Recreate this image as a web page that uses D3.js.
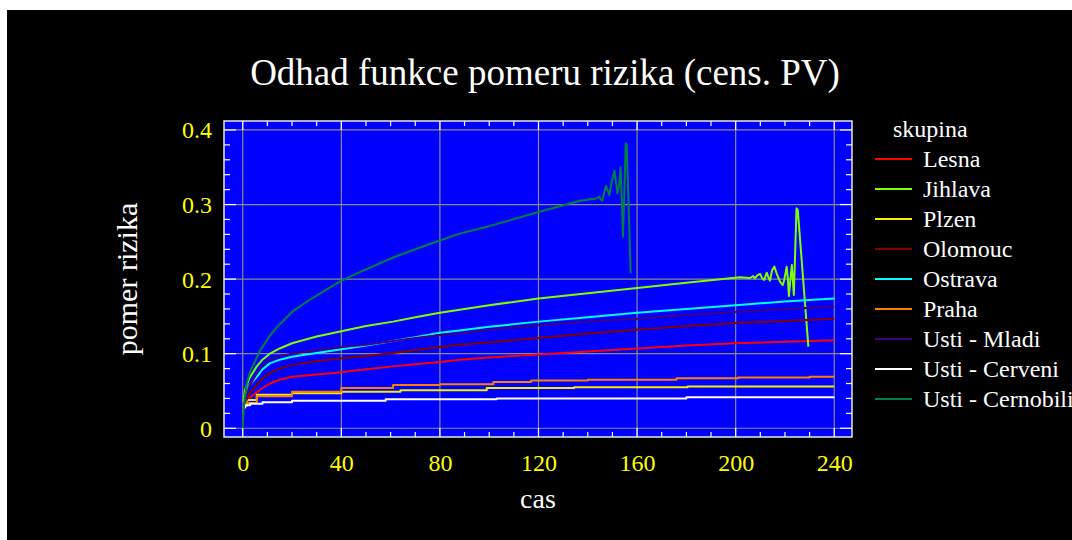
<!DOCTYPE html>
<html>
<head>
<meta charset="utf-8">
<script src="https://cdn.jsdelivr.net/npm/d3@7"></script>
<style>
  html, body { margin: 0; padding: 0; background: #fff; }
  svg { display: block; }
  text { font-family: "Liberation Serif", "Times New Roman", serif; }
</style>
</head>
<body>
<svg id="chart" width="1072" height="540"></svg>
<script>
// ---------------- data ----------------
const seriesNames = ["Lesna", "Jihlava", "Plzen", "Olomouc", "Ostrava", "Praha",
  "Usti - Mladi", "Usti - Cerveni", "Usti - Cernobili"];
const seriesColors = ["#ff0000", "#80ff00", "#f0f000", "#800000", "#00ffff", "#ff8000",
  "#400080", "#ffffff", "#008040"];

const xTicks = [0, 40, 80, 120, 160, 200, 240];
const yTicks = [0, 0.1, 0.2, 0.3, 0.4];
const yTickLabels = ["0", "0.1", "0.2", "0.3", "0.4"];

// [cas, pomer rizika]
const lesna = [[0.3,0.030],[1.6,0.034],[2.5,0.040],[5.7,0.048],[8,0.054],[11,0.060],[15,0.065],
  [20,0.069],[30,0.072],[40,0.075],[50,0.079],[61,0.083],[70,0.086],[80,0.089],[88,0.092],
  [100,0.095],[120,0.099],[140,0.103],[160,0.107],[180,0.111],[200,0.114],[220,0.116],[240,0.118]];
const jihlava = [[0.3,0.035],[0.9,0.051],[2.5,0.066],[5.7,0.083],[8,0.092],[11,0.100],[15,0.107],
  [20,0.114],[30,0.123],[40,0.130],[50,0.137],[61,0.143],[70,0.149],[80,0.155],[100,0.165],
  [120,0.174],[140,0.181],[160,0.188],[180,0.195],[197.7,0.201],[201.7,0.2024],[205.8,0.2015],[207.1,0.204],
  [207.8,0.201],[208.8,0.205],[209.9,0.207],[210.8,0.201],[211.6,0.199],[212.6,0.2086],[213.3,0.2024],
  [213.9,0.198],[214.8,0.212],[215.7,0.2167],[216.6,0.2077],[218,0.1965],[219.1,0.192],[219.7,0.1988],
  [220.7,0.2167],[221.1,0.2032],[221.6,0.1773],[222.3,0.2032],[222.8,0.2189],[223.2,0.1988],
  [223.6,0.1787],[224.3,0.2524],[224.7,0.2949],[225.2,0.2926],[229.5,0.1094]];
const plzen = [[0.3,0.032],[1.6,0.038],[5.7,0.045],[20,0.047],[40,0.049],[64,0.051],[99,0.054],
  [134.5,0.055],[180.5,0.056],[240,0.056]];
const olomouc = [[0.3,0.030],[1.6,0.038],[2.5,0.046],[5.7,0.058],[8,0.067],[11,0.074],[15,0.080],
  [20,0.085],[30,0.090],[40,0.094],[50,0.097],[61,0.101],[70,0.105],[80,0.109],[88,0.112],
  [100,0.115],[120,0.121],[140,0.127],[160,0.132],[180,0.137],[200,0.141],[220,0.144],[240,0.147]];
const ostrava = [[0.3,0.030],[0.9,0.034],[2.3,0.056],[5.7,0.069],[8,0.079],[11,0.087],[15,0.092],
  [20,0.096],[30,0.101],[40,0.106],[50,0.111],[61,0.117],[70,0.122],[80,0.128],[88,0.131],
  [100,0.136],[120,0.143],[140,0.149],[160,0.155],[180,0.160],[200,0.165],[220,0.170],[240,0.174]];
const praha = [[0.3,0.030],[1.6,0.034],[5.7,0.043],[20,0.049],[40,0.054],[61,0.058],[80,0.059],
  [101.7,0.062],[117,0.064],[140,0.065],[176,0.067],[201,0.068],[230,0.069],[240,0.069]];
const mladi = [[0.3,0.030],[1.6,0.043],[2.5,0.055],[5.7,0.074],[8,0.084],[11,0.092],[15,0.097],
  [20,0.100],[30,0.105],[40,0.109],[50,0.112],[61,0.117],[70,0.121],[80,0.125],[88,0.127],
  [100,0.132],[120,0.138],[140,0.143],[160,0.147],[180,0.152],[200,0.156],[220,0.160],[240,0.163]];
const cerveni = [[0.3,0.028],[1,0.031],[3,0.033],[8,0.035],[20,0.037],[58,0.039],[103,0.040],
  [180,0.0415],[240,0.0415]];
const cernobili = [[0,0],[0.3,0.02],[0.8,0.04],[1.6,0.060],[3,0.076],[4.6,0.087],[7,0.104],
  [11,0.124],[14,0.136],[20,0.156],[27,0.172],[34,0.186],[40,0.198],[48,0.210],[61,0.229],
  [75,0.246],[88,0.261],[100,0.271],[120,0.290],[136.8,0.3051],
  [139.6,0.306],[140.9,0.3074],[142.3,0.307],[143.6,0.3083],[144.7,0.3105],[145.2,0.307],
  [145.9,0.3051],[146.6,0.315],[147.4,0.3248],[148.3,0.3172],[148.7,0.3127],[149.7,0.3306],
  [150.8,0.3453],[151.5,0.3284],[152,0.315],[152.7,0.3261],[153.3,0.3499],[153.9,0.297],
  [154.3,0.2568],[155.4,0.382],[155.8,0.380],[157.4,0.2078]];

const seriesData = [lesna, jihlava, plzen, olomouc, ostrava, praha, mladi, cerveni, cernobili];
const steppedSeries = ["Plzen", "Praha", "Usti - Cerveni"];

// ---------------- layout ----------------
const svg = d3.select("#chart");
const W = 1072, H = 540;
const plot = { left: 224, right: 852, top: 121, bottom: 437 };

svg.append("rect").attr("x", 0).attr("y", 0).attr("width", W).attr("height", H).attr("fill", "#ffffff");
svg.append("rect").attr("x", 7).attr("y", 10).attr("width", W - 7).attr("height", H - 10).attr("fill", "#000000");

const x = d3.scaleLinear().domain([-7.6, 247.2]).range([plot.left, plot.right]);
const y = d3.scaleLinear().domain([-0.0117, 0.412]).range([plot.bottom, plot.top]);

// background
svg.append("rect")
  .attr("x", plot.left).attr("y", plot.top)
  .attr("width", plot.right - plot.left).attr("height", plot.bottom - plot.top)
  .attr("fill", "#0000ff");

// grid
const grid = svg.append("g").attr("stroke", "#8a8a8a").attr("stroke-width", 1.2);
xTicks.forEach(t => grid.append("line")
  .attr("x1", x(t)).attr("x2", x(t)).attr("y1", plot.top).attr("y2", plot.bottom));
yTicks.forEach(t => grid.append("line")
  .attr("y1", y(t)).attr("y2", y(t)).attr("x1", plot.left).attr("x2", plot.right));

// minor / major ticks on all sides (pointing inward)
const tickG = svg.append("g").attr("stroke", "#ffffff").attr("stroke-width", 1.2);
const xMinor = d3.range(0, 241, 10);
xMinor.forEach(t => {
  const major = t % 40 === 0;
  const len = major ? 9 : 5;
  tickG.append("line").attr("x1", x(t)).attr("x2", x(t)).attr("y1", plot.bottom).attr("y2", plot.bottom - len);
  tickG.append("line").attr("x1", x(t)).attr("x2", x(t)).attr("y1", plot.top).attr("y2", plot.top + len);
});
const yMinor = d3.range(0, 21).map(i => i * 0.02);
yMinor.forEach((t, i) => {
  const major = i % 5 === 0;
  const len = major ? 12 : 6;
  tickG.append("line").attr("y1", y(t)).attr("y2", y(t)).attr("x1", plot.left).attr("x2", plot.left + len);
  tickG.append("line").attr("y1", y(t)).attr("y2", y(t)).attr("x1", plot.right).attr("x2", plot.right - len);
});

// series
svg.append("clipPath").attr("id", "plotclip").append("rect")
  .attr("x", plot.left).attr("y", plot.top)
  .attr("width", plot.right - plot.left).attr("height", plot.bottom - plot.top);
const linesG = svg.append("g").attr("clip-path", "url(#plotclip)");
seriesNames.forEach((name, i) => {
  const line = d3.line()
    .x(d => x(d[0])).y(d => y(d[1]))
    .curve(steppedSeries.includes(name) ? d3.curveStepAfter : d3.curveLinear);
  linesG.append("path")
    .datum(seriesData[i])
    .attr("d", line)
    .attr("fill", "none")
    .attr("stroke", seriesColors[i])
    .attr("stroke-width", 2)
    .attr("stroke-linejoin", "round");
});

// frame
svg.append("rect")
  .attr("x", plot.left).attr("y", plot.top)
  .attr("width", plot.right - plot.left).attr("height", plot.bottom - plot.top)
  .attr("fill", "none").attr("stroke", "#e8e8e8").attr("stroke-width", 1.5);

// axes tick labels
const xAxis = d3.axisBottom(x).tickValues(xTicks).tickSize(0).tickPadding(0).tickFormat(d3.format("d"));
const gx = svg.append("g").attr("transform", `translate(0,${plot.bottom})`).call(xAxis);
gx.select(".domain").remove();
gx.selectAll("text")
  .attr("fill", "#ffff00").attr("font-size", 24)
  .attr("font-family", "Liberation Serif")
  .attr("dy", null).attr("y", 34);

const yAxis = d3.axisLeft(y).tickValues(yTicks).tickSize(0).tickPadding(0)
  .tickFormat((d, i) => yTickLabels[i]);
const gy = svg.append("g").attr("transform", `translate(${plot.left - 12},0)`).call(yAxis);
gy.select(".domain").remove();
gy.selectAll("text")
  .attr("fill", "#ffff00").attr("font-size", 24)
  .attr("font-family", "Liberation Serif")
  .attr("dy", "0.33em").attr("x", 0);

// title & axis titles
svg.append("text")
  .attr("x", 545).attr("y", 85)
  .attr("text-anchor", "middle")
  .attr("fill", "#ffffff").attr("font-size", 37)
  .text("Odhad funkce pomeru rizika (cens. PV)");

svg.append("text")
  .attr("x", 538).attr("y", 508)
  .attr("text-anchor", "middle")
  .attr("fill", "#ffffff").attr("font-size", 28)
  .text("cas");

svg.append("text")
  .attr("transform", "translate(137,279) rotate(-90)")
  .attr("text-anchor", "middle")
  .attr("fill", "#ffffff").attr("font-size", 30)
  .text("pomer rizika");

// legend
const leg = svg.append("g");
leg.append("text").attr("x", 893).attr("y", 137)
  .attr("fill", "#ffffff").attr("font-size", 24).text("skupina");
seriesNames.forEach((name, i) => {
  const ly = 159 + i * 30;
  leg.append("line").attr("x1", 875).attr("x2", 912).attr("y1", ly).attr("y2", ly)
    .attr("stroke", seriesColors[i]).attr("stroke-width", 2);
  leg.append("text").attr("x", 923).attr("y", ly + 7.5)
    .attr("fill", "#ffffff").attr("font-size", 24).text(name);
});
</script>
</body>
</html>
